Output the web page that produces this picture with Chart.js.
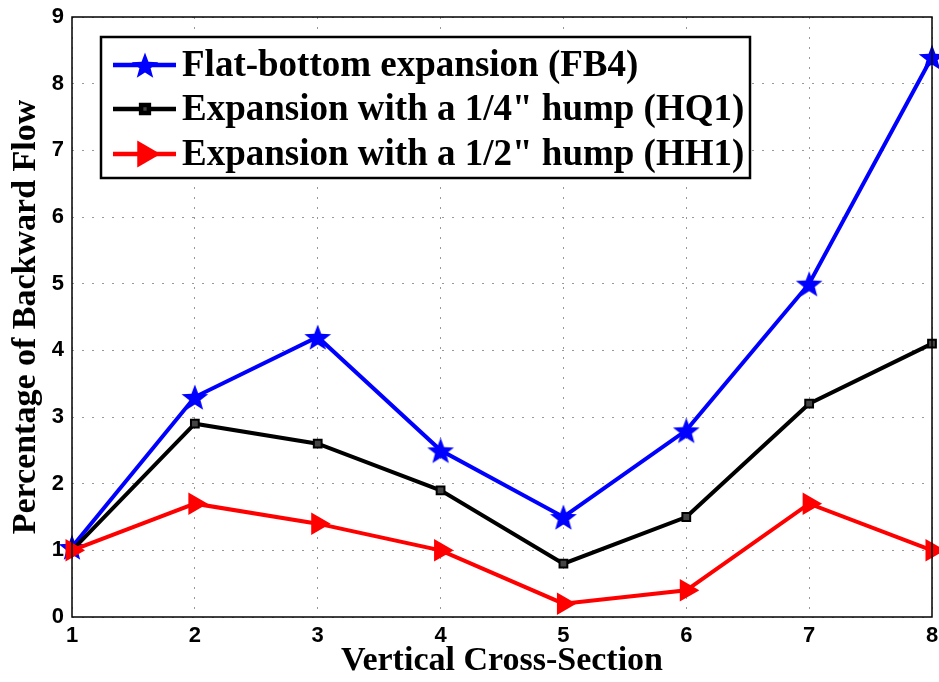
<!DOCTYPE html>
<html lang="en">
<head>
  <meta charset="UTF-8" />
  <title>Percentage of Backward Flow</title>
  <script src="https://cdn.jsdelivr.net/npm/chart.js"></script>
  <style>
    html, body { margin: 0; padding: 0; background: #fff; }
    #wrap { width: 939px; height: 682px; position: relative; }
  </style>
</head>
<body>
  <div id="wrap"><canvas id="flowChart" width="939" height="682"></canvas></div>

  <script>
    const sections = [1, 2, 3, 4, 5, 6, 7, 8];
    const fb4 = [1.05, 3.3, 4.2, 2.5, 1.5, 2.8, 5.0, 8.4];
    const hq1 = [1.0, 2.9, 2.6, 1.9, 0.8, 1.5, 3.2, 4.1];
    const hh1 = [1.0, 1.7, 1.4, 1.0, 0.2, 0.4, 1.7, 1.0];
    const labels = [
      'Flat-bottom expansion (FB4)',
      'Expansion with a 1/4" hump (HQ1)',
      'Expansion with a 1/2" hump (HH1)'
    ];

    // filled five point star for the blue series
    function makeStar(size, color) {
      const c = document.createElement('canvas');
      c.width = size; c.height = size;
      const g = c.getContext('2d');
      const cx = size / 2, cy = size / 2 + 1.5, R = size / 2, r = R * 0.42;
      g.beginPath();
      for (let i = 0; i < 10; i++) {
        const rad = i % 2 === 0 ? R : r;
        const a = -Math.PI / 2 + i * Math.PI / 5;
        g.lineTo(cx + rad * Math.cos(a), cy + rad * Math.sin(a));
      }
      g.closePath();
      g.fillStyle = color;
      g.fill();
      return c;
    }
    const star = makeStar(28, '#0000ff');

    const toPts = ys => sections.map((x, i) => ({ x: x, y: ys[i] }));

    const styles = [
      { color: '#0000ff', fill: '#0000ff', point: star, radius: 14, rot: 0 },
      { color: '#000000', fill: '#444444', point: 'rect', radius: 5.5, rot: 0 },
      { color: '#ff0000', fill: '#ff0000', point: 'triangle', radius: 11, rot: 90 }
    ];

    // box around plot area and the MATLAB style legend
    const boxPlugin = {
      id: 'boxLegend',
      afterDatasetsDraw(chart) {
        const { ctx, chartArea: a } = chart;
        ctx.save();
        ctx.strokeStyle = '#000';
        ctx.lineWidth = 1.5;
        ctx.strokeRect(a.left, a.top, a.right - a.left, a.bottom - a.top);

        const lx = 101, ly = 37, lw = 649, lh = 141;
        ctx.fillStyle = '#fff';
        ctx.fillRect(lx, ly, lw, lh);
        ctx.lineWidth = 2.5;
        ctx.strokeRect(lx, ly, lw, lh);

        const rows = [65, 109, 154];
        ctx.font = 'bold 37px "Liberation Serif"';
        ctx.textBaseline = 'middle';
        rows.forEach((y, i) => {
          const s = styles[i];
          ctx.strokeStyle = s.color;
          ctx.lineWidth = 4.5;
          ctx.beginPath();
          ctx.moveTo(113, y);
          ctx.lineTo(176, y);
          ctx.stroke();
          ctx.fillStyle = s.fill;
          Chart.helpers.drawPoint(ctx, {
            pointStyle: s.point, radius: s.radius, rotation: s.rot,
            borderWidth: 2
          }, 145, y);
          ctx.fillStyle = '#000';
          ctx.fillText(labels[i], 182, y + 1);
        });
        ctx.restore();
      }
    };

    const ctx = document.getElementById('flowChart').getContext('2d');
    new Chart(ctx, {
      type: 'line',
      data: {
        datasets: [fb4, hq1, hh1].map((ys, i) => ({
          label: labels[i],
          data: toPts(ys),
          borderColor: styles[i].color,
          backgroundColor: styles[i].fill,
          pointBorderColor: styles[i].color,
          borderWidth: 4,
          pointStyle: styles[i].point,
          pointRadius: styles[i].radius,
          pointRotation: styles[i].rot,
          pointBorderWidth: 2,
          tension: 0,
          clip: false,
          order: 2 - i
        }))
      },
      options: {
        responsive: false,
        animation: false,
        layout: { autoPadding: false, padding: { top: 17, right: 7, left: 0, bottom: 0 } },
        plugins: {
          legend: { display: false },
          tooltip: { enabled: false }
        },
        scales: {
          x: {
            type: 'linear',
            min: 1, max: 8,
            afterFit(s) { s.height = 65; s.paddingRight = 0; s.paddingLeft = 0; },
            ticks: {
              stepSize: 1,
              color: '#000',
              padding: 6,
              font: { family: '"Liberation Sans"', weight: 'bold', size: 22 }
            },
            grid: {
              color: '#999',
              lineWidth: 1,
              drawTicks: false,
              tickLength: 0
            },
            border: { display: false, dash: [2, 8] },
            title: {
              display: true,
              text: 'Vertical Cross-Section',
              color: '#000',
              padding: { top: 1, bottom: 0 },
              font: { family: '"Liberation Serif"', weight: 'bold', size: 34 }
            }
          },
          y: {
            min: 0, max: 9,
            afterFit(s) { s.width = 72; s.paddingTop = 0; s.paddingBottom = 0; },
            ticks: {
              stepSize: 1,
              color: '#000',
              padding: 8,
              font: { family: '"Liberation Sans"', weight: 'bold', size: 22 }
            },
            grid: {
              color: '#999',
              lineWidth: 1,
              drawTicks: false,
              tickLength: 0
            },
            border: { display: false, dash: [2, 8] },
            title: {
              display: true,
              text: 'Percentage of Backward Flow',
              color: '#000',
              padding: { top: 6, bottom: 0 },
              font: { family: '"Liberation Serif"', weight: 'bold', size: 34 }
            }
          }
        }
      },
      plugins: [boxPlugin]
    });
  </script>
</body>
</html>
